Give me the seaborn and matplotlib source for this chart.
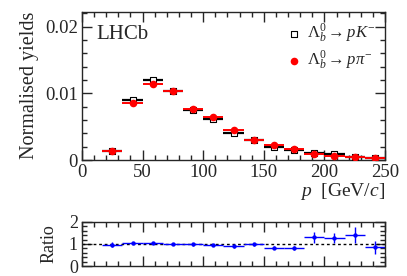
import numpy as np
import pandas as pd
import matplotlib
matplotlib.use('Agg')
import matplotlib.pyplot as plt
from matplotlib.ticker import AutoMinorLocator, MultipleLocator
import seaborn as sns

# bin centres in p [GeV/c]
p_centres = [25.0, 41.7, 58.3, 75.0, 91.7, 108.3, 125.0, 141.7, 158.3, 175.0, 191.7, 208.3, 225.0, 241.7]
half_width = 8.33

# normalised yields
yield_pK = [0.00135, 0.0090, 0.0120, 0.0104, 0.0075, 0.0062, 0.0041, 0.0030, 0.0020, 0.0015, 0.0011, 0.0009, 0.0005, 0.0003]
yield_ppi = [0.00135, 0.0085, 0.01145, 0.0103, 0.00765, 0.0064, 0.0045, 0.00295, 0.0022, 0.0017, 0.0009, 0.00065, 0.00045, 0.0003]
err_pK = [0.0001, 0.0002, 0.0002, 0.0002, 0.0002, 0.0002, 0.00015, 0.00012, 0.0001, 0.0001, 0.0001, 0.0001, 0.0001, 0.0001]
err_ppi = [0.0001, 0.0002, 0.0002, 0.0002, 0.0002, 0.0002, 0.00015, 0.00012, 0.0001, 0.0001, 0.0001, 0.0001, 0.0001, 0.0001]

# ratio panel
ratio = [0.97, 1.04, 1.04, 1.00, 0.98, 0.95, 0.90, 0.98, 0.84, 0.84, 1.30, 1.27, 1.40, 0.85]
ratio_err = [0.12, 0.06, 0.05, 0.05, 0.05, 0.06, 0.07, 0.07, 0.08, 0.09, 0.24, 0.22, 0.37, 0.30]

df = pd.DataFrame({'p': p_centres, 'pK': yield_pK, 'ppi': yield_ppi, 'ratio': ratio})

sns.set_theme(style='ticks')
plt.rcParams['font.family'] = ['Liberation Serif', 'DejaVu Serif']
plt.rcParams['mathtext.fontset'] = 'custom'
plt.rcParams['mathtext.rm'] = 'Liberation Serif'
plt.rcParams['mathtext.it'] = 'Liberation Serif:italic'
plt.rcParams['mathtext.bf'] = 'Liberation Serif:bold'
plt.rcParams['axes.linewidth'] = 1.0

fig = plt.figure(figsize=(4.07, 2.76), dpi=100)
ax = fig.add_axes([0.2015, 0.42, 0.7445, 0.537])
axr = fig.add_axes([0.2015, 0.036, 0.7445, 0.16])

# main panel
ax.errorbar(p_centres, yield_pK, xerr=half_width, yerr=err_pK, fmt='none',
            ecolor='black', elinewidth=1.6, capsize=0, zorder=2)
sns.scatterplot(data=df, x='p', y='pK', ax=ax, marker='s', s=22,
                facecolor='white', edgecolor='black', linewidth=0.8, zorder=3,
                label=r'$\mathit{\Lambda}_b^{\mathit{0}} \rightarrow pK^{-}$')
ax.errorbar(p_centres, yield_ppi, xerr=half_width, yerr=err_ppi, fmt='none',
            ecolor='red', elinewidth=1.4, capsize=0, zorder=4)
sns.scatterplot(data=df, x='p', y='ppi', ax=ax, marker='o', s=30,
                color='red', edgecolor='red', linewidth=0, zorder=5,
                label=r'$\mathit{\Lambda}_b^{\mathit{0}} \rightarrow p\pi^{-}$')

ax.set_xlim(0, 250)
ax.set_ylim(0, 0.0222)
ax.xaxis.set_major_locator(MultipleLocator(50))
ax.xaxis.set_minor_locator(AutoMinorLocator(5))
ax.yaxis.set_major_locator(MultipleLocator(0.01))
ax.yaxis.set_minor_locator(AutoMinorLocator(5))
ax.set_yticks([0, 0.01, 0.02])
ax.set_yticklabels(['0', '0.01', '0.02'])
ax.tick_params(which='both', direction='in', top=True, right=True, labelsize=13.5, pad=3)
ax.tick_params(which='major', length=7, width=1.0)
ax.tick_params(which='minor', length=3.5, width=1.0)
ax.set_xlabel(r'$p$  [GeV/$c$]', fontsize=14, loc='right', labelpad=0)
ax.set_ylabel('Normalised yields', fontsize=14.5, loc='top', labelpad=4)
ax.text(0.048, 0.85, 'LHCb', transform=ax.transAxes, fontsize=15, va='center', ha='left')
ax.legend(loc='upper right', frameon=False, fontsize=12, handletextpad=0.3,
          borderaxespad=0.1, labelspacing=0.25, handlelength=1.0,
          bbox_to_anchor=(0.995, 0.99))

# ratio panel
axr.axhline(1, color='black', linestyle=(0, (2, 2)), linewidth=1.0, zorder=1)
axr.errorbar(p_centres, ratio, xerr=half_width, yerr=ratio_err, fmt='none',
             ecolor='blue', elinewidth=1.0, capsize=0, zorder=2)
sns.scatterplot(data=df, x='p', y='ratio', ax=axr, marker='o', s=10,
                color='blue', edgecolor='blue', linewidth=0, zorder=3, legend=False)
axr.set_xlim(0, 250)
axr.set_ylim(0, 2)
axr.xaxis.set_major_locator(MultipleLocator(50))
axr.xaxis.set_minor_locator(AutoMinorLocator(5))
axr.yaxis.set_major_locator(MultipleLocator(1))
axr.yaxis.set_minor_locator(AutoMinorLocator(5))
axr.set_xticklabels([])
axr.tick_params(which='both', direction='in', top=True, right=True, labelsize=13, pad=3)
axr.tick_params(which='major', length=7, width=1.0)
axr.tick_params(which='minor', length=3.5, width=1.0)
axr.set_xlabel('')
axr.set_ylabel('Ratio', fontsize=13, labelpad=8)

fig.savefig('out.png', dpi=100)
